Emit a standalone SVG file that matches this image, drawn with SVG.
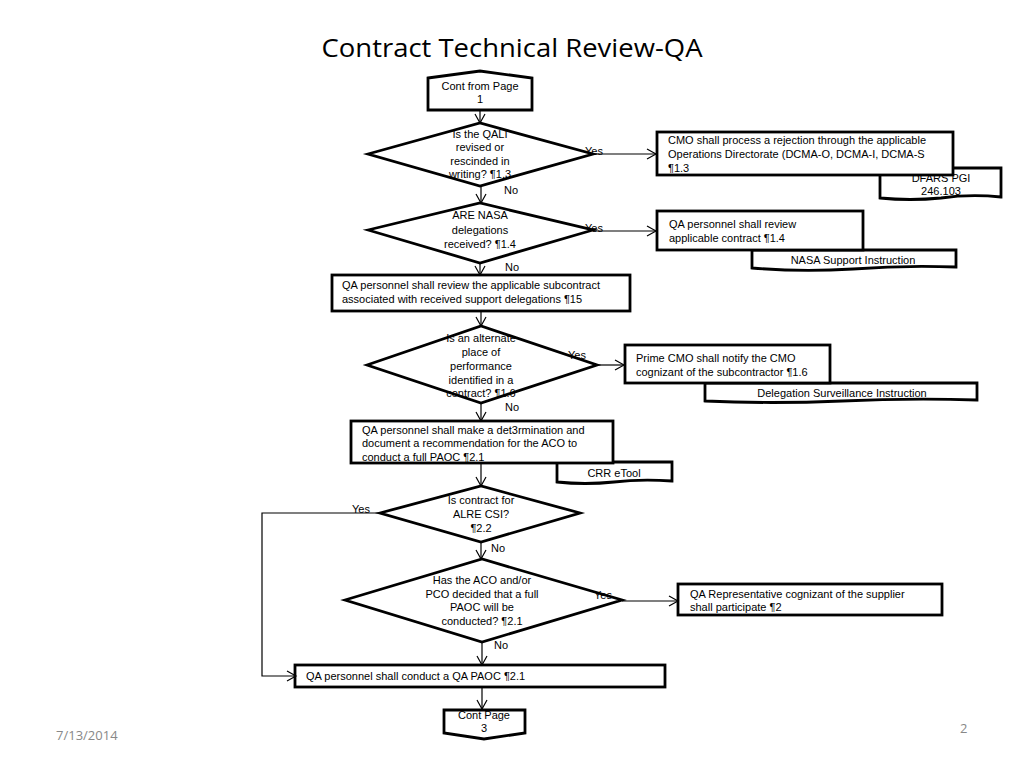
<svg xmlns="http://www.w3.org/2000/svg" width="1024" height="768" viewBox="0 0 1024 768">
<defs>
<marker id="arr" markerWidth="12" markerHeight="12" refX="10" refY="6" orient="auto" markerUnits="userSpaceOnUse">
<path d="M1,1 L10,6 L1,11" fill="none" stroke="#000" stroke-width="1.2"/>
</marker>
</defs>
<style>
.t{font-family:"Liberation Sans",Arial,sans-serif;font-size:11px;fill:#000}
.c{text-anchor:middle}
.s{fill:#fff;stroke:#000;stroke-width:2.8;stroke-linejoin:miter}
.ln{fill:none;stroke:#000;stroke-width:1.2}
</style>
<rect width="1024" height="768" fill="#fff"/>
<text x="512" y="57" text-anchor="middle" style="font-family:'Open Sans','Liberation Sans',sans-serif;font-size:26px" textLength="381" lengthAdjust="spacingAndGlyphs">Contract Technical Review-QA</text>

<g id="start">
<polygon class="s" points="428,78 480,71 532,78 532,110 428,110"/>
<text class="t c" x="480" y="90">Cont from Page</text>
<text class="t c" x="480" y="103">1</text>
</g>

<g id="d1">
<polygon class="s" points="368,154 480,123 593,154 480,186"/>
<text class="t c" x="480" y="138">Is the QALI</text>
<text class="t c" x="480" y="151">revised or</text>
<text class="t c" x="480" y="165">rescinded in</text>
<text class="t c" x="480" y="178">writing? ¶1.3</text>
</g>

<g id="dfars">
<path class="s" d="M880,168 H1001 V197 Q970,194 941,198 Q910,201 880,198 Z"/>
<text class="t c" x="941" y="182">DFARS PGI</text>
<text class="t c" x="941" y="195">246.103</text>
</g>

<g id="cmo">
<rect class="s" x="657" y="132" width="296" height="43"/>
<text class="t" x="668" y="144">CMO shall process a rejection through the applicable</text>
<text class="t" x="668" y="158">Operations Directorate (DCMA-O, DCMA-I, DCMA-S</text>
<text class="t" x="668" y="172">¶1.3</text>
</g>

<g id="d2">
<polygon class="s" points="368,230 480,203 593,230 480,263"/>
<text class="t c" x="480" y="219">ARE NASA</text>
<text class="t c" x="480" y="234">delegations</text>
<text class="t c" x="480" y="248">received? ¶1.4</text>
</g>

<g id="nasa">
<path class="s" d="M752,250 H956 V267 Q905,265 853,269 Q800,272 752,268 Z"/>
<text class="t c" x="853" y="264">NASA Support Instruction</text>
</g>

<g id="qareview">
<rect class="s" x="657" y="211" width="206" height="39"/>
<text class="t" x="669" y="228">QA personnel shall review</text>
<text class="t" x="669" y="242">applicable contract ¶1.4</text>
</g>

<g id="subcontract">
<rect class="s" x="332" y="275" width="298" height="36"/>
<text class="t" x="342" y="289">QA personnel shall review the applicable subcontract</text>
<text class="t" x="342" y="303">associated with received support delegations ¶15</text>
</g>

<g id="d3">
<polygon class="s" points="367,365 481,326 597,365 481,403"/>
<text class="t c" x="481" y="342">Is an alternate</text>
<text class="t c" x="481" y="356">place of</text>
<text class="t c" x="481" y="370">performance</text>
<text class="t c" x="481" y="384">identified in a</text>
<text class="t c" x="481" y="397">contract? ¶1.6</text>
</g>

<g id="delegation">
<path class="s" d="M705,383 H977 V400 Q910,398 842,401 Q770,404 705,401 Z"/>
<text class="t c" x="842" y="397">Delegation Surveillance Instruction</text>
</g>

<g id="prime">
<rect class="s" x="625" y="345" width="205" height="38"/>
<text class="t" x="636" y="362">Prime CMO shall notify the CMO</text>
<text class="t" x="636" y="376">cognizant of the subcontractor ¶1.6</text>
</g>

<g id="crr">
<path class="s" d="M557,462 H672 V481 Q640,479 614,482 Q585,485 557,482 Z"/>
<text class="t c" x="614" y="477">CRR eTool</text>
</g>

<g id="determination">
<rect class="s" x="351" y="421" width="262" height="42"/>
<text class="t" x="362" y="434">QA personnel shall make a det3rmination and</text>
<text class="t" x="362" y="447">document a recommendation for the ACO to</text>
<text class="t" x="362" y="461">conduct a full PAOC ¶2.1</text>
</g>

<g id="d4">
<polygon class="s" points="380,513 481,486 580,513 481,542"/>
<text class="t c" x="481" y="504">Is contract for</text>
<text class="t c" x="481" y="518">ALRE CSI?</text>
<text class="t c" x="481" y="532">¶2.2</text>
</g>

<g id="d5">
<polygon class="s" points="345,600 482,559 622,600 482,642"/>
<text class="t c" x="482" y="584">Has the ACO and/or</text>
<text class="t c" x="482" y="598">PCO decided that a full</text>
<text class="t c" x="482" y="611">PAOC will be</text>
<text class="t c" x="482" y="625">conducted? ¶2.1</text>
</g>

<g id="qarep">
<rect class="s" x="678" y="584" width="264" height="31"/>
<text class="t" x="690" y="598">QA Representative cognizant of the supplier</text>
<text class="t" x="690" y="611">shall participate ¶2</text>
</g>

<g id="conduct">
<rect class="s" x="295" y="665" width="370" height="22"/>
<text class="t" x="306" y="680">QA personnel shall conduct a QA PAOC ¶2.1</text>
</g>

<g id="end">
<polygon class="s" points="444,710 525,710 525,733 484,739 444,733"/>
<text class="t c" x="484" y="719">Cont Page</text>
<text class="t c" x="484" y="732">3</text>
</g>

<g id="connectors">
<line class="ln" x1="480" y1="110" x2="480" y2="123" marker-end="url(#arr)"/>
<line class="ln" x1="593" y1="154" x2="656" y2="154" marker-end="url(#arr)"/>
<line class="ln" x1="481" y1="186" x2="481" y2="203" marker-end="url(#arr)"/>
<line class="ln" x1="593" y1="231" x2="656" y2="231" marker-end="url(#arr)"/>
<line class="ln" x1="480" y1="263" x2="480" y2="275" marker-end="url(#arr)"/>
<line class="ln" x1="481" y1="311" x2="481" y2="326" marker-end="url(#arr)"/>
<line class="ln" x1="597" y1="365" x2="624" y2="365" marker-end="url(#arr)"/>
<line class="ln" x1="481" y1="403" x2="481" y2="421" marker-end="url(#arr)"/>
<line class="ln" x1="481" y1="463" x2="481" y2="486" marker-end="url(#arr)"/>
<polyline class="ln" points="380,513 262,513 262,676 296,676" marker-end="url(#arr)"/>
<line class="ln" x1="481" y1="542" x2="481" y2="559" marker-end="url(#arr)"/>
<line class="ln" x1="622" y1="601" x2="678" y2="601" marker-end="url(#arr)"/>
<line class="ln" x1="482" y1="642" x2="482" y2="665" marker-end="url(#arr)"/>
<line class="ln" x1="482" y1="687" x2="482" y2="709" marker-end="url(#arr)"/>
<text class="t" x="585" y="155">Yes</text>
<text class="t" x="504" y="194">No</text>
<text class="t" x="585" y="232">Yes</text>
<text class="t" x="505" y="271">No</text>
<text class="t" x="568" y="359">Yes</text>
<text class="t" x="505" y="411">No</text>
<text class="t" x="352" y="513">Yes</text>
<text class="t" x="491" y="552">No</text>
<text class="t" x="594" y="599">Yes</text>
<text class="t" x="494" y="649">No</text>
</g>

<text x="56" y="740" style="font-family:'Open Sans','Liberation Sans',sans-serif;font-size:13px;fill:#888">7/13/2014</text>
<text x="960" y="733" style="font-family:'Open Sans','Liberation Sans',sans-serif;font-size:13px;fill:#888">2</text>
</svg>
